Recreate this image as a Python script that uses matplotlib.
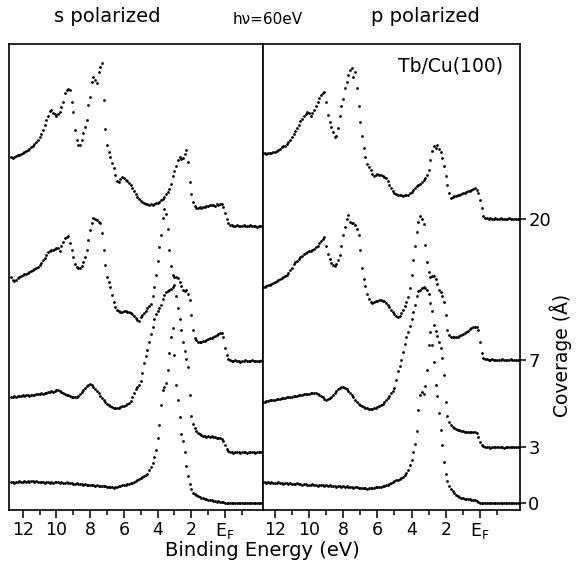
import numpy as np
import matplotlib
matplotlib.use("Agg")
import matplotlib.pyplot as plt
from matplotlib.ticker import FixedLocator

# Binding-energy grid of the spectra (eV), 0.1 eV steps
energy = np.round(np.linspace(12.7, -2.3, 151), 2)

coverage_labels = ["20", "7", "3", "0"]

# ---- s polarized spectra (intensity above each curve's own baseline, arb. units)
s_20 = [69, 68, 69, 70, 71, 71, 72, 73,
        74, 75, 76, 77, 79, 80, 82, 84, 86, 89,
        92, 96, 101, 106, 110, 115, 116, 113, 112, 110,
        112, 114, 119, 124, 133, 136, 137, 136, 124, 114,
        96, 86, 81, 81, 86, 93, 99, 106, 121, 129,
        144, 149, 146, 143, 154, 159, 163, 126, 97, 81,
        74, 69, 63, 58, 51, 45, 44, 47, 49, 48,
        46, 45, 43, 41, 38, 35, 32, 29, 27, 25,
        24, 23, 22, 22, 21, 22, 21, 22, 23, 23,
        24, 26, 27, 29, 32, 34, 37, 42, 50, 55,
        60, 66, 69, 67, 68, 72, 76, 64, 44, 32,
        24, 20, 18, 18, 19, 18, 19, 19, 20, 20,
        21, 21, 21, 20, 22, 21, 22, 22, 19, 13,
        7, 3, 1, 1, 0, 0, 1, 0, 0,
        0, 1, 0, 0, 0, 1, 0, 0, 0, -1,
        0, 0, 0, 0]
s_7 = [84, 81, 80, 81, 83, 84, 85, 86,
       87, 87, 88, 89, 90, 91, 92, 93, 94, 96,
       98, 101, 103, 106, 109, 110, 111, 111, 112, 113,
       113, 110, 115, 119, 123, 124, 125, 118, 111, 104,
       97, 94, 93, 93, 95, 99, 104, 111, 121, 131,
       138, 143, 142, 141, 139, 138, 128, 111, 96, 84,
       79, 74, 66, 59, 54, 51, 50, 49, 49, 50,
       50, 49, 49, 48, 47, 45, 43, 41, 40, 44,
       46, 48, 50, 53, 55, 57, 65, 74, 86, 100,
       114, 126, 143, 152, 147, 132, 111, 95, 86, 84,
       84, 83, 79, 75, 71, 70, 71, 67, 61, 46,
       31, 23, 21, 19, 19, 19, 20, 20, 21, 22,
       23, 23, 24, 25, 26, 27, 28, 28, 24, 13,
       6, 2, 1, 0, 0, 1, 0, 0, -1,
       0, 0, 1, 0, 0, 0, 1, 0, 0, 0,
       0, 0, 1, 0]
s_3 = [55, 55, 56, 55, 56, 56, 56, 57,
       56, 57, 57, 56, 57, 57, 57, 58, 58, 58,
       59, 58, 59, 59, 60, 60, 61, 60, 61, 62,
       62, 61, 60, 59, 58, 57, 57, 56, 55, 55,
       55, 55, 56, 58, 60, 62, 64, 66, 67, 68,
       67, 65, 63, 61, 59, 56, 54, 52, 50, 48,
       47, 46, 45, 44, 44, 44, 44, 45, 46, 46,
       47, 48, 49, 51, 55, 59, 63, 65, 67, 71,
       79, 89, 96, 102, 110, 118, 125, 133, 138, 141,
       144, 147, 153, 157, 160, 161, 162, 163, 165, 167,
       156, 144, 133, 122, 110, 101, 93, 85, 57, 36,
       28, 24, 21, 19, 18, 17, 16, 16, 15, 16,
       15, 16, 15, 15, 14, 14, 14, 13, 11, 7,
       3, 1, 0, 0, -1, 0, 0, 0, -1,
       0, 0, 0, -1, 0, 0, 0, 0, -1, 0,
       0, 0, 0, 0]
s_0 = [21, 21, 20, 21, 21, 22, 21, 21,
       22, 21, 22, 21, 22, 22, 21, 22, 21, 21,
       21, 21, 20, 21, 21, 20, 21, 20, 21, 21,
       21, 20, 21, 20, 20, 21, 20, 20, 20, 19,
       19, 20, 19, 19, 19, 18, 19, 18, 18, 18,
       18, 18, 17, 18, 17, 17, 17, 17, 17, 16,
       16, 16, 16, 15, 16, 16, 17, 17, 18, 18,
       18, 19, 19, 20, 20, 21, 22, 23, 24, 25,
       26, 27, 28, 29, 33, 36, 40, 46, 53, 65,
       78, 98, 113, 116, 120, 133, 150, 166, 175, 148,
       118, 103, 86, 69, 62, 51, 37, 27, 19, 14,
       10, 9, 8, 7, 6, 5, 5, 4, 4, 3,
       3, 3, 2, 2, 1, 2, 1, 1, 1, 0,
       0, 0, 0, 0, 0, 0, 0, 0, 0,
       0, 0, 0, 0, 0, 0, 0, 0, 0, 0,
       0, 0, 0, 0]

# ---- p polarized spectra
p_20 = [66, 66, 65, 66, 66, 66, 67, 67,
        68, 69, 70, 72, 73, 73, 75, 77, 79, 82,
        85, 88, 91, 94, 98, 100, 103, 105, 107, 106,
        103, 106, 109, 113, 117, 121, 124, 126, 127, 117,
        104, 97, 92, 87, 82, 83, 91, 103, 113, 120,
        131, 137, 144, 149, 151, 142, 147, 131, 113, 97,
        83, 71, 62, 55, 52, 49, 45, 43, 44, 45,
        44, 44, 43, 42, 41, 38, 34, 31, 28, 26,
        25, 24, 24, 24, 23, 24, 24, 24, 26, 27,
        29, 31, 33, 34, 35, 37, 39, 41, 44, 49,
        59, 68, 73, 71, 74, 70, 67, 61, 53, 43,
        34, 26, 21, 22, 23, 23, 24, 24, 25, 26,
        26, 27, 28, 28, 29, 30, 31, 29, 26, 19,
        11, 3, 1, 1, 0, 1, 0, 0, 1,
        0, 0, 1, 0, 0, 0, 0, 1, 0, 0,
        0, 0, 0, 0]
p_7 = [73, 73, 74, 75, 75, 76, 77, 78,
       79, 80, 81, 82, 83, 84, 85, 87, 90, 92,
       96, 98, 99, 101, 103, 104, 106, 107, 108, 109,
       109, 110, 111, 113, 114, 117, 119, 121, 123, 114,
       106, 101, 97, 95, 94, 96, 100, 105, 114, 125,
       133, 141, 145, 138, 137, 137, 135, 131, 125, 110,
       92, 81, 74, 66, 61, 58, 57, 58, 59, 59,
       60, 60, 59, 59, 57, 55, 53, 50, 48, 46,
       44, 43, 44, 47, 50, 54, 58, 63, 72, 85,
       100, 114, 128, 138, 144, 141, 136, 115, 98, 88,
       83, 84, 84, 81, 76, 70, 68, 64, 58, 45,
       30, 25, 23, 23, 23, 23, 23, 24, 25, 26,
       27, 28, 29, 31, 32, 33, 33, 33, 30, 18,
       7, 2, 1, 1, 0, 0, 1, 0, 0,
       0, 0, 0, 1, 0, 0, 0, 0, 1, 0,
       0, 0, 0, 0]
p_3 = [45, 45, 46, 46, 47, 47, 47, 47,
       48, 48, 48, 49, 49, 49, 50, 50, 50, 50,
       51, 51, 51, 52, 52, 52, 53, 53, 53, 53,
       54, 54, 54, 54, 53, 52, 51, 50, 48, 47,
       48, 49, 50, 52, 54, 56, 58, 59, 60, 60,
       59, 58, 56, 54, 52, 50, 47, 45, 43, 42,
       41, 40, 39, 39, 38, 38, 38, 39, 39, 40,
       41, 42, 43, 45, 47, 49, 51, 54, 56, 59,
       67, 76, 81, 87, 95, 103, 110, 115, 121, 128,
       135, 142, 151, 156, 157, 159, 160, 159, 157, 153,
       144, 136, 122, 116, 111, 105, 99, 89, 72, 45,
       31, 25, 22, 20, 19, 18, 17, 17, 16, 16,
       15, 15, 15, 15, 15, 15, 15, 14, 10, 5,
       2, 1, 0, 0, 0, -1, 0, 0, 0,
       0, 0, 0, 0, -1, 0, 0, 0, 0, 0,
       0, 0, 0, 0]
p_0 = [21, 21, 20, 21, 20, 21, 20, 20,
       20, 21, 20, 20, 19, 20, 20, 19, 20, 19,
       19, 19, 20, 19, 19, 18, 19, 19, 18, 18,
       18, 19, 18, 18, 17, 18, 18, 18, 17, 18,
       17, 18, 17, 17, 17, 16, 17, 17, 16, 17,
       16, 17, 16, 16, 16, 15, 16, 16, 15, 15,
       15, 15, 15, 14, 15, 15, 15, 15, 16, 16,
       16, 16, 17, 17, 18, 18, 19, 20, 21, 22,
       23, 23, 24, 25, 26, 28, 30, 33, 38, 43,
       51, 59, 72, 93, 108, 111, 109, 117, 133, 158,
       171, 158, 141, 118, 107, 90, 73, 58, 41, 29,
       22, 17, 14, 12, 10, 8, 7, 6, 5, 5,
       4, 4, 4, 4, 3, 3, 3, 2, 1, 0,
       0, 0, 0, 0, 0, 0, 0, 0, 0,
       0, 0, 0, 0, 0, 0, 0, 0, 0, 0,
       0, 0, 0, 0]

s_spectra = [s_20, s_7, s_3, s_0]
p_spectra = [p_20, p_7, p_3, p_0]
for sp in s_spectra + p_spectra:
    assert len(sp) == len(energy), len(sp)

# vertical offsets of the stacked curves (layout)
s_offsets = [284, 149, 58, 7]
p_offsets = [291, 150, 63, 7]

plt.rcParams["font.family"] = ["DejaVu Sans"]

W, H = 576, 571
fig = plt.figure(figsize=(W / 100, H / 100), dpi=100)


def px_axes(x0, y0, x1, y1):
    return fig.add_axes([x0 / W, 1 - y1 / H, (x1 - x0) / W, (y1 - y0) / H])


axS = px_axes(9, 44, 263, 510)
axP = px_axes(263, 44, 520, 510)

major = [12, 10, 8, 6, 4, 2, 0]
major_labels = ["12", "10", "8", "6", "4", "2", r"$\mathregular{E_F}$"]
minor = [11, 9, 7, 5, 3, 1, -1]

for ax, spectra, offs, xlim in [(axS, s_spectra, s_offsets, (12.81, -2.25)),
                                (axP, p_spectra, p_offsets, (12.69, -2.34))]:
    for spec, off in zip(spectra, offs):
        ax.plot(energy, np.asarray(spec) + off, linestyle="none", marker="o",
                ms=2.0, mfc="black", mec="none")
    ax.set_xlim(*xlim)
    ax.set_ylim(0, 466)
    ax.set_xticks(major)
    ax.set_xticklabels(major_labels)
    ax.xaxis.set_minor_locator(FixedLocator(minor))
    ax.tick_params(axis="x", which="major", direction="out", length=6,
                   width=1.1, labelsize=12.5, pad=2)
    ax.tick_params(axis="x", which="minor", direction="out", length=3.5,
                   width=1.1)
    ax.set_yticks([])
    for spn in ax.spines.values():
        spn.set_linewidth(1.2)

axP.yaxis.tick_right()
axP.set_yticks(p_offsets)
axP.set_yticklabels(coverage_labels)
axP.tick_params(axis="y", which="major", direction="out", length=4,
                width=1.1, labelsize=13, pad=2)

fig.text(107 / W, 1 - 17 / H, "s polarized", ha="center", va="center", fontsize=14)
fig.text(268 / W, 1 - 19 / H, "h\u03bd=60eV", ha="center", va="center", fontsize=11)
fig.text(425 / W, 1 - 17 / H, "p polarized", ha="center", va="center", fontsize=14)
fig.text(451 / W, 1 - 66 / H, "Tb/Cu(100)", ha="center", va="center", fontsize=13.5)
fig.text(262 / W, 1 - 550 / H, "Binding Energy (eV)", ha="center", va="center", fontsize=14)
fig.text(561 / W, 1 - 355 / H, "Coverage (\u00c5)", ha="center", va="center",
         rotation=90, fontsize=13.5)

fig.savefig("out.png", dpi=100)
